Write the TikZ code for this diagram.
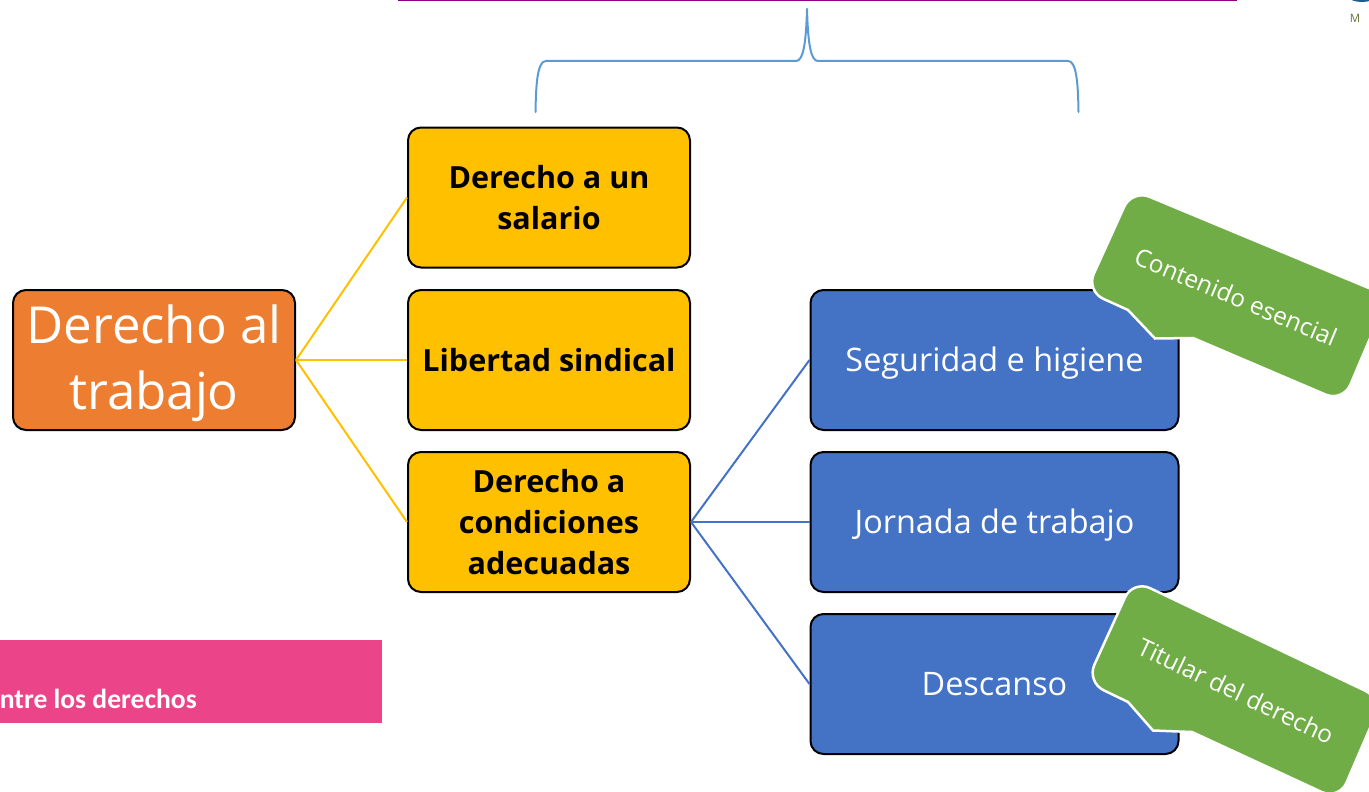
\documentclass[tikz,border=0pt]{standalone}
\usepackage{fontspec}
\setmainfont{Open Sans}
\newfontfamily\carlito{Carlito}
\definecolor{naranja}{HTML}{ED7D31}
\definecolor{amarillo}{HTML}{FFC000}
\definecolor{azul}{HTML}{4472C4}
\definecolor{verde}{HTML}{70AD47}
\definecolor{celeste}{HTML}{5B9BD5}
\definecolor{rosa}{HTML}{EC4488}
\definecolor{morado}{HTML}{8B0080}
\definecolor{petroleo}{HTML}{1F5C8A}
\definecolor{oliva}{HTML}{6B6F3A}
\tikzset{
  caja/.style={draw=black,line width=2pt,rounded corners=13pt,align=center,inner sep=0pt},
  raiz/.style={caja,fill=naranja,text=white,minimum width=282pt,minimum height=140pt,
    text depth=6pt,font=\fontsize{51}{66}\selectfont},
  derecho/.style={caja,fill=amarillo,text=black,minimum width=282pt,minimum height=140pt,
    font=\fontsize{30.5}{41}\selectfont\bfseries},
  tema/.style={caja,fill=azul,text=white,minimum width=368pt,minimum height=140pt,
    text height=23pt,text depth=0pt,font=\fontsize{32.4}{36}\selectfont},
  globo/.style={draw=white,line width=2.5pt,fill=verde},
  globotxt/.style={text=white,inner sep=0pt,font=\fontsize{24.4}{28}\selectfont},
}
\begin{document}
\begin{tikzpicture}[x=1pt,y=-1pt]
\useasboundingbox (0,0) rectangle (1369,792);
\clip (0,0) rectangle (1369,792);

\fill[morado] (398,0) rectangle (1237,1.5);
\fill[rosa] (0,640) rectangle (381.5,723);
\node[text=white,anchor=east,inner sep=0pt,font=\carlito\fontsize{27.6}{30}\selectfont\bfseries] (nota) at (197,699) {ntre los derechos};
\fill[petroleo] (1362,-3) ellipse (13 and 5);
\node[text=oliva,inner sep=0pt,font=\fontsize{11.5}{13}\selectfont] (marca) at (1355,18) {M};

\node[raiz] (trabajo) at (154,360) {Derecho al\\trabajo};
\node[derecho] (salario) at (549,197.5) {Derecho a un\\salario};
\node[derecho] (libertad) at (549,360) {Libertad sindical};
\node[derecho] (condiciones) at (549,522) {Derecho a\\condiciones\\adecuadas};
\node[tema] (seguridad) at (994.5,360) {Seguridad e higiene};
\node[tema] (jornada) at (994.5,522) {Jornada de trabajo};
\node[tema] (descanso) at (994.5,684) {Descanso};

\foreach \d in {salario,libertad,condiciones}
  \draw[amarillo,line width=2pt] (trabajo.east) -- (\d.west);
\foreach \t in {seguridad,jornada,descanso}
  \draw[azul,line width=2pt] (condiciones.east) -- (\t.west);

% llave
\coordinate (izq) at (535.5,112);
\coordinate (der) at (1078.5,112);
\coordinate (pico) at (807,9);
\draw[celeste,line width=2pt,line cap=round,line join=round]
  (izq) .. controls (536,80) and (538,61) .. (546,61) -- (796,61)
  .. controls (803,61) and (806,45) .. (pico)
  .. controls (808,45) and (811,61) .. (818,61) -- (1068,61)
  .. controls (1076,61) and (1078,80) .. (der);

\draw[globo,rounded corners=19pt]
  (1132,189.5) -- (1388,296) -- (1343,402) [sharp corners] -- (1193,338) -- (1155,338.5) -- (1128,310) [rounded corners=19pt] -- (1086,291) -- cycle;
\node[globotxt,rotate=-22.6] (contenido) at (1236,297) {Contenido esencial};

\draw[globo,rounded corners=19pt]
  (1133,580) -- (1382.5,699) -- (1339,800) [sharp corners] -- (1192,732) -- (1153,730.5) -- (1128,702) [rounded corners=19pt] -- (1086.5,682) -- cycle;
\node[globotxt,rotate=-25.4] (titular) at (1236,691) {Titular del derecho};
\end{tikzpicture}
\end{document}
